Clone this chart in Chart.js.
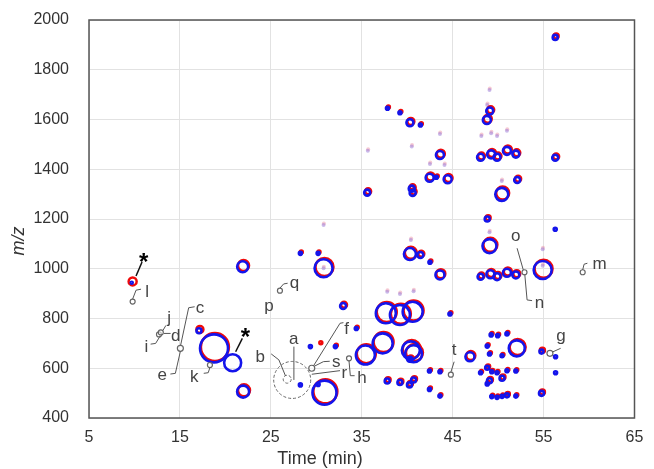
<!DOCTYPE html>
<html>
<head>
<meta charset="utf-8">
<script src="https://cdn.jsdelivr.net/npm/chart.js@4.4.1/dist/chart.umd.min.js"></script>
<style>
  html, body { margin: 0; padding: 0; background: #fff; }
  #wrap { width: 654px; height: 469px; }
</style>
</head>
<body>
<div id="wrap"><canvas id="chart-01"></canvas></div>
<script>
// axis ticks
const timeTicks = [5, 15, 25, 35, 45, 55, 65];
const mzTicks = [400, 600, 800, 1000, 1200, 1400, 1600, 1800, 2000];

// peaks: [time (min), m/z, blue size, red size]  (size 0 = not seen)
const peaks = [
  [9.7, 944, 1, 4], [21.9, 1008, 5.5, 5.5], [17.1, 751, 2.5, 3.5], [18.75, 680, 14, 14],
  [20.8, 622, 8.5, 0], [21.95, 506, 6, 6],
  [28.25, 1062, 1.5, 1.5], [30.2, 1062, 1.5, 1.5], [30.8, 1002, 9, 9], [32.95, 850, 3, 3],
  [37.65, 821, 10, 10], [39.2, 814, 10, 10], [40.6, 827, 10, 10],
  [40.3, 1059, 6, 6], [41.45, 1055, 3, 3], [42.5, 1026, 1.5, 1.5], [34.4, 760, 1.5, 1.5],
  [29.35, 687, 1.5, 0], [30.4, 697, 0, 1.5], [32.1, 687, 1.5, 1.5],
  [35.4, 653, 9.5, 9.5], [37.3, 700, 10, 10], [40.4, 672, 9, 9], [40.7, 658, 8.5, 8.5],
  [40.3, 636, 2.5, 2.5], [37.8, 549, 2.5, 2.5], [39.2, 543, 2.5, 2.5], [40.25, 533, 2.5, 2.5],
  [40.7, 553, 2.5, 2.5], [42.45, 589, 1.5, 1.5], [42.45, 515, 1.5, 1.5],
  [28.25, 533, 1.5, 0], [30.9, 502, 12, 12], [30.2, 535, 1.5, 0],
  [44.7, 818, 1.5, 1.5], [46.9, 646, 4.5, 4.5], [43.6, 586, 1.5, 1.5], [43.6, 488, 1.5, 1.5],
  [49.23, 734, 1.5, 1.5], [49.95, 731, 1.5, 1.5], [50.97, 738, 1.5, 1.5], [48.8, 689, 1.5, 1.5],
  [49.05, 657, 1.5, 1.5], [50.43, 650, 1.5, 1.5], [52.05, 680, 8, 8],
  [48.07, 582, 1.5, 1.5], [48.8, 602, 2, 2], [49.3, 586, 1.5, 1.5], [49.88, 582, 1.5, 1.5],
  [50.97, 590, 1.5, 1.5], [51.95, 589, 1.5, 1.5], [50.43, 560, 2.5, 2.5], [49.05, 550, 2.5, 2.5],
  [48.8, 537, 1.5, 1.5], [49.3, 486, 1.5, 1.5], [49.88, 483, 1.5, 1.5], [50.43, 487, 1.5, 1.5],
  [50.97, 491, 2, 2], [51.95, 488, 1.5, 1.5],
  [54.77, 667, 2, 2.5], [56.32, 646, 1.5, 0], [56.32, 582, 1.5, 0], [54.77, 499, 2.5, 2.5],
  [49.08, 1634, 3.5, 3.5], [48.76, 1598, 4, 4], [43.6, 1457, 4, 4],
  [48.07, 1448, 3.5, 3.5], [49.23, 1460, 4, 4], [49.88, 1448, 3.5, 3.5], [50.97, 1474, 4, 4],
  [51.95, 1461, 3.5, 3.5], [56.28, 1446, 3, 3],
  [42.47, 1366, 4, 4], [43.2, 1368, 1.5, 1.5], [44.45, 1360, 4, 4], [52.1, 1357, 3, 3],
  [50.4, 1299, 6.5, 6.5], [48.8, 1200, 2.5, 2.5], [56.28, 1159, 1.5, 0],
  [37.83, 1645, 1.5, 1.5], [39.2, 1627, 1.5, 1.5], [40.3, 1587, 3.5, 3.5], [41.45, 1578, 1.5, 1.5],
  [35.6, 1306, 3, 3], [40.5, 1322, 3, 3], [40.6, 1305, 3, 3],
  [43.6, 975, 4.5, 4.5], [49.05, 1091, 7, 7],
  [48.07, 968, 3, 3], [49.15, 978, 4, 4], [49.88, 968, 3.5, 3.5], [50.97, 984, 4, 4], [51.95, 975, 3.5, 3.5],
  [54.9, 995, 9, 9], [56.28, 1930, 2.5, 2.5]
];

// weak peaks: [time, m/z]
const weakPeaks = [
  [30.8, 1176], [37.8, 908], [39.2, 898], [40.7, 910], [40.4, 1116],
  [49.05, 1719], [48.8, 1658], [43.6, 1542], [48.15, 1534], [49.23, 1545], [49.88, 1534],
  [50.97, 1555], [44.1, 1417], [50.4, 1353], [49.05, 1147], [35.67, 1474], [40.5, 1491],
  [42.5, 1421], [54.9, 1078], [30.8, 1002], [54.9, 1012]
];

// labelled compounds: [time, m/z, size]
const markers = [
  [9.8, 868, 2.5], [12.7, 736, 2.5], [12.9, 744, 2.5], [15.05, 680, 3], [18.3, 613, 2.5],
  [27.35, 553, 18.5], [26.8, 556, 4], [29.5, 600, 3], [33.6, 640, 2.5], [26.0, 912, 2.5],
  [44.8, 574, 2.5], [55.7, 660, 3], [52.9, 986, 2.5], [59.3, 986, 2.5]
];

// callouts: text, anchor time, anchor m/z, leader (px offsets), text centre (px offset)
const callouts = [
  ['*', 9.7, 944, [[4.3, -6.7], [10.3, -20.7]], [12.3, -25]],
  ['l', 9.8, 868, [[0, -2.5], [3.4, -11.4], [8.4, -12.4]], [14.7, -11]],
  ['j', 12.8, 740, [[3, -3], [6, -8]], [8.3, -15]],
  ['d', 12.8, 740, [[4, 0], [10.7, 0]], [15.7, 1.7]],
  ['i', 12.8, 740, [[0, 3], [-4.3, 10], [-9.3, 10.7]], [-13.3, 12.7]],
  ['c', 15.05, 680, [[0.3, -3.3], [8.3, -40.6], [14.3, -41.6]], [20, -40]],
  ['e', 15.05, 680, [[0, 3], [-5, 25], [-10, 25.7]], [-18.4, 27.4]],
  ['k', 18.3, 613, [[0, 2.5], [-1.7, 7.7], [-6.2, 8.3]], [-15, 10.7]],
  ['*', 20.8, 622, [[3, -11], [9.7, -24.4]], [13, -30]],
  ['p', 24.82, 841, [], [0, 0]],
  ['q', 26.0, 912, [[0, -2.5], [3.7, -6.7], [7.7, -7.4]], [14.4, -5.7]],
  ['a', 27.35, 553, [[1.7, -33.3], [1.7, 0]], [1.7, -40.7]],
  ['b', 26.8, 556, [[-16, -25.3], [-8.3, -19.3], [-1.7, -3.3]], [-26.7, -23.3]],
  ['f', 29.5, 600, [[1.7, -2.3], [28.3, -45], [31.7, -45.6]], [35, -40]],
  ['s', 29.5, 600, [[2.5, -2], [11.7, -6.6], [18, -7]], [24.3, -6]],
  ['r', 29.5, 600, [[0, 6], [28.3, 2.4]], [33.3, 5]],
  ['h', 33.6, 640, [[0, 2.7], [1.3, 17.4], [5.6, 17.4]], [13.3, 19]],
  ['t', 44.8, 574, [[0, -2.5], [3.3, -13]], [3.3, -25.4]],
  ['g', 55.7, 660, [[2.5, -1.3], [10.7, -5]], [10.7, -15]],
  ['o', 52.9, 986, [[-7.4, -24], [-1.2, -2.3]], [-9, -35.6]],
  ['n', 52.9, 986, [[0.3, 2.2], [2.6, 27.7], [7.6, 28.4]], [15.3, 31]],
  ['m', 59.3, 986, [[0, -2.3], [1.4, -8], [4.7, -9]], [17.4, -7.3]]
];

const FONT = 'Liberation Sans, Arial, sans-serif';
const toBubble = (rows, k) => rows.filter(p => p[k] > 0).map(p => ({ x: p[0], y: p[1], r: p[k] }));

// red trace sits a little up and to the right of the blue one
const shiftPlugin = {
  id: 'shift',
  beforeDatasetDraw(chart, args) {
    const ds = chart.data.datasets[args.index];
    const ctx = chart.ctx;
    ctx.save();
    if (ds.shift) ctx.translate(ds.shift[0], ds.shift[1]);
    if (ds.dash) ctx.setLineDash(ds.dash);
  },
  afterDatasetDraw(chart) {
    chart.ctx.restore();
  }
};

function centredText(ctx, text, cx, cy) {
  const m = ctx.measureText(text);
  const w = m.actualBoundingBoxRight + m.actualBoundingBoxLeft;
  const h = m.actualBoundingBoxAscent + m.actualBoundingBoxDescent;
  ctx.fillText(text, cx - w / 2 + m.actualBoundingBoxLeft, cy - h / 2 + m.actualBoundingBoxAscent);
}

const overlayPlugin = {
  id: 'overlay',
  afterDatasetsDraw(chart) {
    const { ctx, chartArea: a, scales: { x, y } } = chart;
    ctx.save();
    // frame
    ctx.strokeStyle = '#555';
    ctx.lineWidth = 1.5;
    ctx.strokeRect(a.left, a.top, a.right - a.left, a.bottom - a.top);
    // callouts
    ctx.textAlign = 'left';
    ctx.textBaseline = 'alphabetic';
    callouts.forEach(([txt, t, mz, path, off]) => {
      const px = x.getPixelForValue(t), py = y.getPixelForValue(mz);
      if (path.length) {
        ctx.beginPath();
        ctx.strokeStyle = txt === '*' ? '#111' : '#555';
        ctx.lineWidth = txt === '*' ? 1.5 : 1;
        path.forEach(([dx, dy], i) => i ? ctx.lineTo(px + dx, py + dy) : ctx.moveTo(px + dx, py + dy));
        ctx.stroke();
      }
      if (txt === '*') {
        ctx.fillStyle = '#000';
        ctx.font = 'bold 24px ' + FONT;
      } else {
        ctx.fillStyle = '#444';
        ctx.font = '17px ' + FONT;
      }
      centredText(ctx, txt, px + off[0], py + off[1]);
    });
    // axis titles
    ctx.fillStyle = '#333';
    ctx.font = '18px ' + FONT;
    ctx.textAlign = 'center';
    ctx.textBaseline = 'middle';
    ctx.fillText('Time (min)', 320, 459);
    ctx.translate(19, 241);
    ctx.rotate(-Math.PI / 2);
    ctx.font = 'italic 18px ' + FONT;
    ctx.fillText('m/z', 0, 0);
    ctx.restore();
  }
};

const ctx = document.getElementById('chart-01').getContext('2d');

const myChart = new Chart(ctx, {
  type: 'bubble',
  data: {
    datasets: [
      {
        label: 'markers',
        data: markers.filter(p => p[2] < 4).map(p => ({ x: p[0], y: p[1], r: p[2] })),
        borderColor: '#666',
        backgroundColor: 'rgba(255,255,255,0.6)',
        borderWidth: 1.2,
        order: 1
      },
      {
        label: 'markers (wide)',
        data: markers.filter(p => p[2] >= 4).map(p => ({ x: p[0], y: p[1], r: p[2] })),
        borderColor: '#666',
        backgroundColor: 'rgba(0,0,0,0)',
        borderWidth: 1,
        dash: [3, 2],
        order: 1
      },
      {
        label: 'blue',
        data: toBubble(peaks, 2),
        borderColor: 'rgb(20,20,235)',
        backgroundColor: 'rgba(0,0,0,0)',
        borderWidth: 2.6,
        order: 2
      },
      {
        label: 'red',
        data: toBubble(peaks, 3),
        borderColor: 'rgb(240,10,10)',
        backgroundColor: 'rgba(0,0,0,0)',
        borderWidth: 2.5,
        shift: [0.9, -1.3],
        order: 3
      },
      {
        label: 'weak blue',
        data: weakPeaks.map(p => ({ x: p[0], y: p[1], r: 2 })),
        borderColor: 'rgba(0,0,0,0)',
        backgroundColor: 'rgba(150,120,215,0.5)',
        borderWidth: 0,
        order: 4
      },
      {
        label: 'weak red',
        data: weakPeaks.map(p => ({ x: p[0], y: p[1], r: 2 })),
        borderColor: 'rgba(0,0,0,0)',
        backgroundColor: 'rgba(235,140,160,0.45)',
        borderWidth: 0,
        shift: [0.3, -1.5],
        order: 5
      }
    ]
  },
  options: {
    responsive: true,
    maintainAspectRatio: false,
    animation: false,
    events: [],
    layout: { padding: { top: 20, right: 12, left: 0, bottom: 0 } },
    plugins: {
      legend: { display: false },
      tooltip: { enabled: false }
    },
    scales: {
      x: {
        type: 'linear',
        min: 5, max: 65,
        afterBuildTicks: s => { s.ticks = timeTicks.map(v => ({ value: v })); },
        afterFit: s => { s.height = 51; s.paddingLeft = 0; s.paddingRight = 0; },
        grid: { color: '#e2e2e2', lineWidth: 1, drawTicks: false },
        border: { display: false },
        ticks: { padding: 10, color: '#333', font: { family: FONT, size: 16 }, callback: v => String(v), maxRotation: 0 }
      },
      y: {
        type: 'linear',
        min: 400, max: 2000,
        afterBuildTicks: s => { s.ticks = mzTicks.map(v => ({ value: v })); },
        afterFit: s => { s.width = 89; s.paddingTop = 0; s.paddingBottom = 0; },
        grid: { color: '#e2e2e2', lineWidth: 1, drawTicks: false },
        border: { display: false },
        ticks: { padding: 20, color: '#333', font: { family: FONT, size: 16 }, callback: v => String(v) }
      }
    }
  },
  plugins: [shiftPlugin, overlayPlugin]
});
</script>
</body>
</html>
